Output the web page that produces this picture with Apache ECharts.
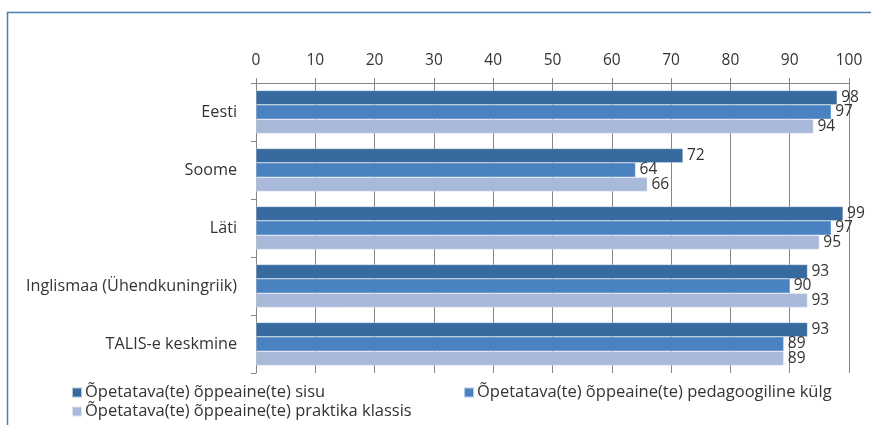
<!DOCTYPE html>
<html><head><meta charset="utf-8">
<script src="https://cdn.jsdelivr.net/npm/echarts@6/dist/echarts.min.js"></script>
<style>html,body{margin:0;padding:0;background:#fff}#c{width:871px;height:425px}</style>
</head><body><div id="c"></div>
<script>
var categories = ["Eesti", "Soome", "Läti", "Inglismaa (Ühendkuningriik)", "TALIS-e keskmine"];
var seriesNames = ["Õpetatava(te) õppeaine(te) sisu", "Õpetatava(te) õppeaine(te) pedagoogiline külg", "Õpetatava(te) õppeaine(te) praktika klassis"];
var sisu = [98, 72, 99, 93, 93];
var pedagoogiline = [97, 64, 97, 90, 89];
var praktika = [94, 66, 95, 93, 89];
var colors = ["#376A9F", "#4A81C0", "#A9B9D9"];
var font = "Open Sans";
var txt = '#333333';

var chart = echarts.init(document.getElementById('c'), null, {renderer: 'canvas'});
function mk(name, data, color) {
  return {
    name: name, type: 'bar', data: data, barGap: '0%', barCategoryGap: '26%',
    itemStyle: {color: color, borderColor: 'rgba(255,255,255,0.6)', borderWidth: 0.5},
    label: {show: true, position: 'right', distance: 4, color: txt, fontFamily: font, fontSize: 15.5},
    animation: false
  };
}
var legText = {color: txt, fontSize: 16.5, fontFamily: font, padding: [0,0,0,-2]};
chart.setOption({
  animation: false,
  textStyle: {fontFamily: font},
  graphic: [{type: 'rect', shape: {x: 7.5, y: 12.5, width: 900, height: 500}, style: {fill: 'none', stroke: '#4A7EBB', lineWidth: 1.5}, silent: true}],
  grid: {left: 256, right: 22, top: 83, bottom: 52, containLabel: false},
  xAxis: {
    type: 'value', position: 'top', min: 0, max: 100, interval: 10,
    axisLine: {show: true, lineStyle: {color: '#868686', width: 1}},
    axisTick: {show: true, length: 5, lineStyle: {color: '#868686'}},
    axisLabel: {color: txt, fontSize: 15.5, fontFamily: font, margin: 14},
    splitLine: {show: true, lineStyle: {color: '#868686', width: 1}}
  },
  yAxis: {
    type: 'category', data: categories, inverse: true,
    axisLine: {show: true, lineStyle: {color: '#868686', width: 1}},
    axisTick: {show: true, length: 5, lineStyle: {color: '#868686'}},
    axisLabel: {color: txt, fontSize: 16.2, fontFamily: font, margin: 19}
  },
  legend: [
    {data: [seriesNames[0]], left: 66, top: 379, icon: 'rect', itemWidth: 10, itemHeight: 10, itemGap: 0, textStyle: legText},
    {data: [seriesNames[1]], left: 458, top: 379, icon: 'rect', itemWidth: 10, itemHeight: 10, itemGap: 0, textStyle: legText},
    {data: [seriesNames[2]], left: 66, top: 398, icon: 'rect', itemWidth: 10, itemHeight: 10, itemGap: 0, textStyle: legText}
  ],
  series: [mk(seriesNames[0], sisu, colors[0]), mk(seriesNames[1], pedagoogiline, colors[1]), mk(seriesNames[2], praktika, colors[2])]
});
</script></body></html>
